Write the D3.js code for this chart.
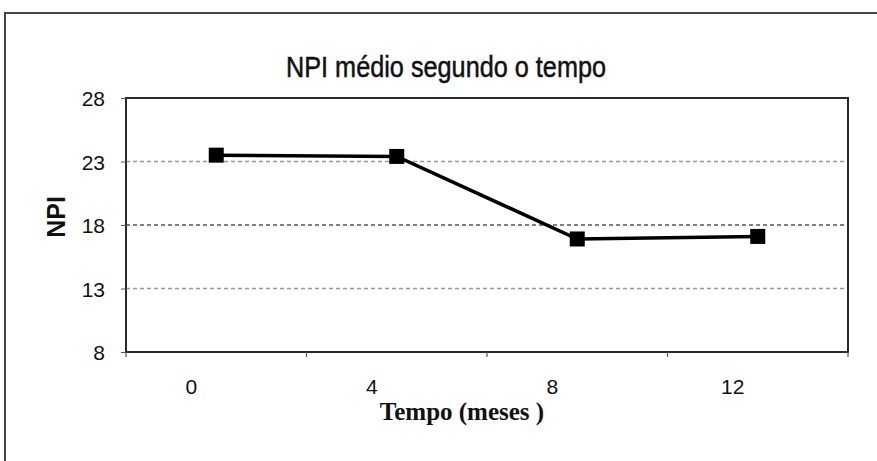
<!DOCTYPE html>
<html><head><meta charset="utf-8">
<script src="https://cdn.jsdelivr.net/npm/d3@7"></script>
<style>body{margin:0;background:#fff}svg{display:block}</style>
</head><body>
<svg id="c" width="877" height="461"></svg>
<script>
const months = ["0", "4", "8", "12"];
const npiValues = [23.5, 23.4, 16.9, 17.1];
const yTicks = [8, 13, 18, 23, 28];
const titleText = "NPI médio segundo o tempo";
const xTitle = "Tempo (meses )";
const yTitle = "NPI";

const svg = d3.select("#c");
const m = {l:126, r:848, t:98, b:352};
const sans = "Liberation Sans, Arial, Helvetica, sans-serif";

svg.append("rect").attr("x",5).attr("y",13).attr("width",900).attr("height",500)
  .attr("fill","#fff").attr("stroke","#444").attr("stroke-width",2);

const x = d3.scaleBand().domain(months).range([m.l, m.r]);
const y = d3.scaleLinear().domain([8, 28]).range([m.b, m.t]);

// gridlines
svg.append("g").selectAll("line").data(yTicks.filter(d => d > 8 && d < 28)).join("line")
  .attr("x1", m.l).attr("x2", m.r).attr("y1", d => y(d)).attr("y2", d => y(d))
  .attr("stroke", d => d === 18 ? "#555" : "#999").attr("stroke-width", 1.3)
  .attr("stroke-dasharray", "4,3");

// plot frame
svg.append("rect").attr("x", m.l).attr("y", m.t).attr("width", m.r - m.l).attr("height", m.b - m.t)
  .attr("fill", "none").attr("stroke", "#2a2a2a").attr("stroke-width", 2);

// y axis
const ya = svg.append("g").attr("transform", `translate(${m.l},0)`)
  .call(d3.axisLeft(y).tickValues(yTicks).tickSize(5).tickPadding(16));
ya.select(".domain").remove();
ya.selectAll("line").attr("stroke", "#555");
ya.selectAll("text").attr("font-family", sans).attr("font-size", 21)
  .attr("fill", "#111").attr("dy", "0.36em");

// x axis ticks at band boundaries
const bounds = months.map(d => x(d)).concat([x(months[months.length-1]) + x.bandwidth()]);
svg.append("g").selectAll("line").data(bounds).join("line")
  .attr("x1", d => d).attr("x2", d => d).attr("y1", m.b).attr("y2", m.b + 5)
  .attr("stroke", "#555").attr("stroke-width", 1.2);

svg.append("g").selectAll("text").data(months).join("text")
  .attr("x", d => x(d) + x.bandwidth()/2 - 25).attr("y", 394)
  .attr("text-anchor", "middle").attr("font-family", sans)
  .attr("font-size", 21).attr("fill", "#111").text(d => d);

// titles
svg.append("text").attr("x", 446).attr("y", 77).attr("text-anchor", "middle")
  .attr("font-family", sans).attr("font-size", 29)
  .attr("textLength", 320).attr("lengthAdjust", "spacingAndGlyphs")
  .attr("fill", "#111").attr("stroke", "#111").attr("stroke-width", 0.5).text(titleText);

svg.append("text").attr("x", 462).attr("y", 420).attr("text-anchor", "middle")
  .attr("font-family", "Liberation Serif, Times New Roman, serif").attr("font-weight", "bold")
  .attr("font-size", 25).attr("fill", "#111").text(xTitle);

svg.append("text").attr("transform", "translate(65,217) rotate(-90)").attr("text-anchor", "middle")
  .attr("font-family", sans).attr("font-weight", "bold")
  .attr("font-size", 25).attr("fill", "#111").text(yTitle);

// line + markers
const pts = months.map((d, i) => [x(d) + x.bandwidth()/2, y(npiValues[i])]);
svg.append("path").datum(pts).attr("d", d3.line()).attr("fill", "none")
  .attr("stroke", "#000").attr("stroke-width", 3.5);
svg.append("g").selectAll("rect").data(pts).join("rect")
  .attr("x", d => d[0] - 7.5).attr("y", d => d[1] - 7.5).attr("width", 15).attr("height", 15)
  .attr("fill", "#000");
</script>
</body></html>
